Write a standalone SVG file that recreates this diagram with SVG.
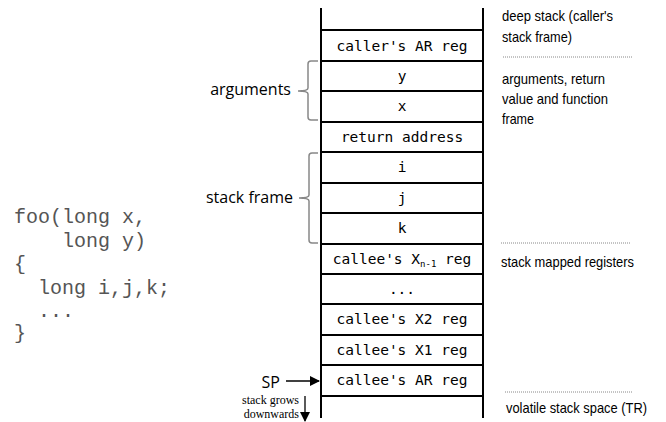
<svg xmlns="http://www.w3.org/2000/svg" width="666" height="422" viewBox="0 0 666 422">
  <style>
    .cell { font-family: "DejaVu Sans Mono", "Liberation Mono", monospace; font-size: 14.5px; fill: #000; text-anchor: middle; }
    .code { font-family: "Liberation Mono", "Courier New", monospace; font-size: 20px; fill: #555; }
    .note { font-family: "Liberation Sans", Arial, sans-serif; font-size: 14.5px; fill: #000; }
    .lbl { font-family: "Open Sans", "Noto Sans", sans-serif; font-size: 16px; fill: #000; }
    .small { font-family: "Liberation Serif", "Times New Roman", serif; font-size: 12px; fill: #000; text-anchor: end; }
    .edge { stroke: #000; stroke-width: 2; fill: none; }
    .brace { stroke: #888; stroke-width: 1.5; fill: none; }
    .sep { stroke: #888; stroke-width: 1; stroke-dasharray: 1 1; fill: none; }
  </style>
  <defs>
    <marker id="arrow" viewBox="0 0 10 10" refX="9" refY="5" markerWidth="10" markerHeight="10" markerUnits="userSpaceOnUse" orient="auto">
      <path d="M0,0 L10,5 L0,10 z" fill="#000"/>
    </marker>
  </defs>

  <!-- source code -->
  <g id="code">
    <text class="code" x="14" y="223" xml:space="preserve">foo(long x,</text>
    <text class="code" x="14" y="247" xml:space="preserve">    long y)</text>
    <text class="code" x="14" y="270" xml:space="preserve">{</text>
    <text class="code" x="14" y="294" xml:space="preserve">  long i,j,k;</text>
    <text class="code" x="14" y="317" xml:space="preserve">  ...</text>
    <text class="code" x="14" y="339" xml:space="preserve">}</text>
  </g>

  <!-- stack column -->
  <g id="stack">
    <line class="edge" x1="321" y1="8" x2="321" y2="418"/>
    <line class="edge" x1="483" y1="8" x2="483" y2="418"/>
    <line class="edge" x1="321" y1="30" x2="483" y2="30"/>
    <line class="edge" x1="321" y1="61" x2="483" y2="61"/>
    <line class="edge" x1="321" y1="91" x2="483" y2="91"/>
    <line class="edge" x1="321" y1="122" x2="483" y2="122"/>
    <line class="edge" x1="321" y1="152" x2="483" y2="152"/>
    <line class="edge" x1="321" y1="183" x2="483" y2="183"/>
    <line class="edge" x1="321" y1="213" x2="483" y2="213"/>
    <line class="edge" x1="321" y1="244" x2="483" y2="244"/>
    <line class="edge" x1="321" y1="274" x2="483" y2="274"/>
    <line class="edge" x1="321" y1="304" x2="483" y2="304"/>
    <line class="edge" x1="321" y1="335" x2="483" y2="335"/>
    <line class="edge" x1="321" y1="365" x2="483" y2="365"/>
    <line class="edge" x1="321" y1="396" x2="483" y2="396"/>
  </g>

  <g id="cell-caller-ar"><text class="cell" x="402" y="51">caller's AR reg</text></g>
  <g id="cell-y"><text class="cell" x="402" y="81">y</text></g>
  <g id="cell-x"><text class="cell" x="402" y="111">x</text></g>
  <g id="cell-ret"><text class="cell" x="402" y="142">return address</text></g>
  <g id="cell-i"><text class="cell" x="402" y="172">i</text></g>
  <g id="cell-j"><text class="cell" x="402" y="203">j</text></g>
  <g id="cell-k"><text class="cell" x="402" y="233">k</text></g>
  <g id="cell-xn1"><text class="cell" x="402" y="264">callee's X<tspan font-size="9" dy="3">n-1</tspan><tspan dy="-3"> reg</tspan></text></g>
  <g id="cell-dots"><text class="cell" x="402" y="294">...</text></g>
  <g id="cell-x2"><text class="cell" x="402" y="324">callee's X2 reg</text></g>
  <g id="cell-x1"><text class="cell" x="402" y="355">callee's X1 reg</text></g>
  <g id="cell-callee-ar"><text class="cell" x="402" y="385">callee's AR reg</text></g>

  <!-- braces and their labels -->
  <g id="arguments">
    <path class="brace" d="M318,61 H311 Q308,61 308,64 V88 Q308,91 298,91 Q308,91 308,94 V117 Q308,120 311,120 H318"/>
    <text class="lbl" x="291" y="95" text-anchor="end">arguments</text>
  </g>
  <g id="stack-frame">
    <path class="brace" d="M318,153 H312 Q309,153 309,156 V195 Q309,198 299,198 Q309,198 309,201 V240 Q309,243 312,243 H318"/>
    <text class="lbl" x="293" y="203" text-anchor="end">stack frame</text>
  </g>

  <!-- annotations on the right -->
  <g id="deep-stack">
    <text class="note" x="502" y="21" textLength="111" lengthAdjust="spacingAndGlyphs">deep stack (caller's</text>
    <text class="note" x="502" y="42" textLength="70" lengthAdjust="spacingAndGlyphs">stack frame)</text>
  </g>
  <g id="args-frame">
    <text class="note" x="502" y="84" textLength="103" lengthAdjust="spacingAndGlyphs">arguments, return</text>
    <text class="note" x="502" y="104" textLength="106" lengthAdjust="spacingAndGlyphs">value and function</text>
    <text class="note" x="502" y="124" textLength="32" lengthAdjust="spacingAndGlyphs">frame</text>
  </g>
  <g id="mapped">
    <text class="note" x="501" y="267" textLength="133" lengthAdjust="spacingAndGlyphs">stack mapped registers</text>
  </g>
  <g id="volatile">
    <text class="note" x="506" y="413" textLength="141" lengthAdjust="spacingAndGlyphs">volatile stack space (TR)</text>
  </g>

  <!-- stack pointer -->
  <g id="sp">
    <text class="lbl" x="280" y="388" text-anchor="end" font-size="17">SP</text>
  </g>
  <g id="grows">
    <text class="small" x="299" y="404">stack grows</text>
    <text class="small" x="299" y="418">downwards</text>
  </g>

  <g id="connectors">
    <line class="sep" x1="503" y1="57" x2="633" y2="57"/>
    <line class="sep" x1="501" y1="243" x2="630" y2="243"/>
    <line class="sep" x1="505" y1="392" x2="633" y2="392"/>
    <line x1="286" y1="381" x2="319" y2="381" stroke="#000" stroke-width="1.3" marker-end="url(#arrow)"/>
    <line x1="305" y1="396" x2="305" y2="421" stroke="#000" stroke-width="1.3" marker-end="url(#arrow)"/>
  </g>
</svg>
